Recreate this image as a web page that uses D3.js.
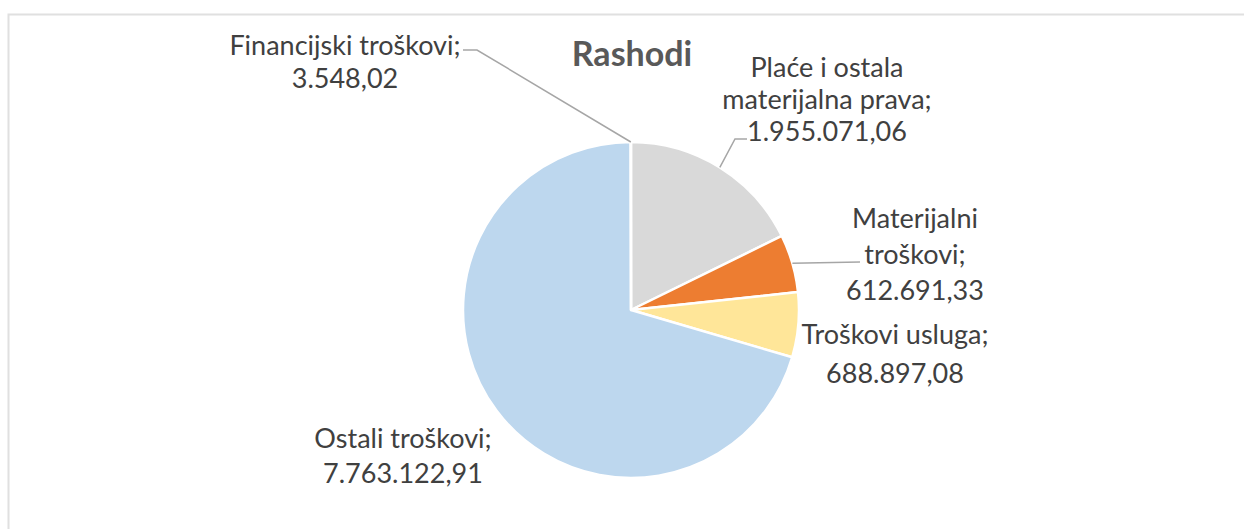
<!DOCTYPE html>
<html>
<head>
<meta charset="utf-8">
<script src="https://cdn.jsdelivr.net/npm/d3@7"></script>
<style>
  body { margin: 0; background: #fff; }
  svg { display: block; }
</style>
</head>
<body>
<div id="chart"></div>
<script>
// Data, in the order the slices go round (clockwise from 12 o'clock)
var categories = ["Plaće i ostala materijalna prava", "Materijalni troškovi", "Troškovi usluga", "Ostali troškovi", "Financijski troškovi"];
var values = [1955071.06, 612691.33, 688897.08, 7763122.91, 3548.02];
var valueLabels = ["1.955.071,06", "612.691,33", "688.897,08", "7.763.122,91", "3.548,02"];
var colors = ["#d9d9d9", "#ed7d31", "#ffe699", "#bdd7ee", "#a5a5a5"];

// how each label is broken into lines (last line is the value)
var labelLines = [
  ["Plaće i ostala", "materijalna prava;"],
  ["Materijalni", "troškovi;"],
  ["Troškovi usluga;"],
  ["Ostali troškovi;"],
  ["Financijski troškovi;"]
];

var width = 1244, height = 529;
var cx = 631, cy = 310, radius = 168;

// label layout: centre x, first baseline, line step, leader elbow (null = no leader)
var labelPos = [
  {x: 827, y: 77, dy: 32, elbow: [[735, 139], [747, 139]]},
  {x: 915, y: 228, dy: 36, elbow: [[860, 262]]},
  {x: 895, y: 344, dy: 39, elbow: null},
  {x: 403, y: 448, dy: 35, elbow: null},
  {x: 345, y: 55, dy: 33, elbow: [[477, 50], [463, 50]]}
];

var svg = d3.select("#chart").append("svg")
    .attr("width", width)
    .attr("height", height);

// chart area frame
svg.append("rect")
    .attr("x", 8.5).attr("y", 14.5)
    .attr("width", width + 20).attr("height", height + 20)
    .attr("fill", "#fff")
    .attr("stroke", "#e0e0e0")
    .attr("stroke-width", 2);

// title
svg.append("text")
    .attr("x", 632).attr("y", 66)
    .attr("text-anchor", "middle")
    .style("font-family", "Lato, 'Open Sans', sans-serif")
    .style("font-weight", "bold")
    .style("font-size", "34px")
    .style("fill", "#595959")
    .text("Rashodi");

var pie = d3.pie().sort(null).value(function(d) { return d; });
var arcs = pie(values);

var arc = d3.arc().innerRadius(0).outerRadius(radius);
var edgeArc = d3.arc().innerRadius(radius).outerRadius(radius);

var g = svg.append("g").attr("transform", "translate(" + cx + "," + cy + ")");

g.selectAll("path.slice")
    .data(arcs)
    .enter()
    .append("path")
      .attr("class", "slice")
      .attr("d", arc)
      .attr("fill", function(d, i) { return colors[i]; })
      .attr("stroke", "#fff")
      .attr("stroke-width", 2.5)
      .attr("stroke-linejoin", "round");

// leader lines: from slice edge midpoint to the label
var line = d3.line();
arcs.forEach(function(d, i) {
  var lp = labelPos[i];
  if (!lp.elbow) return;
  var c = edgeArc.centroid(d);
  var pts = [[cx + c[0], cy + c[1]]].concat(lp.elbow);
  svg.append("path")
      .attr("d", line(pts))
      .attr("fill", "none")
      .attr("stroke", "#a6a6a6")
      .attr("stroke-width", 1.5);
});

// data labels
arcs.forEach(function(d, i) {
  var lp = labelPos[i];
  var lines = labelLines[i].concat([valueLabels[i]]);
  var t = svg.append("text")
      .attr("text-anchor", "middle")
      .style("font-family", "Lato, 'Open Sans', sans-serif")
      .style("font-size", "27px")
      .style("fill", "#404040");
  lines.forEach(function(s, k) {
    t.append("tspan")
        .attr("x", lp.x)
        .attr("y", lp.y + k * lp.dy)
        .text(s);
  });
});
</script>
</body>
</html>
